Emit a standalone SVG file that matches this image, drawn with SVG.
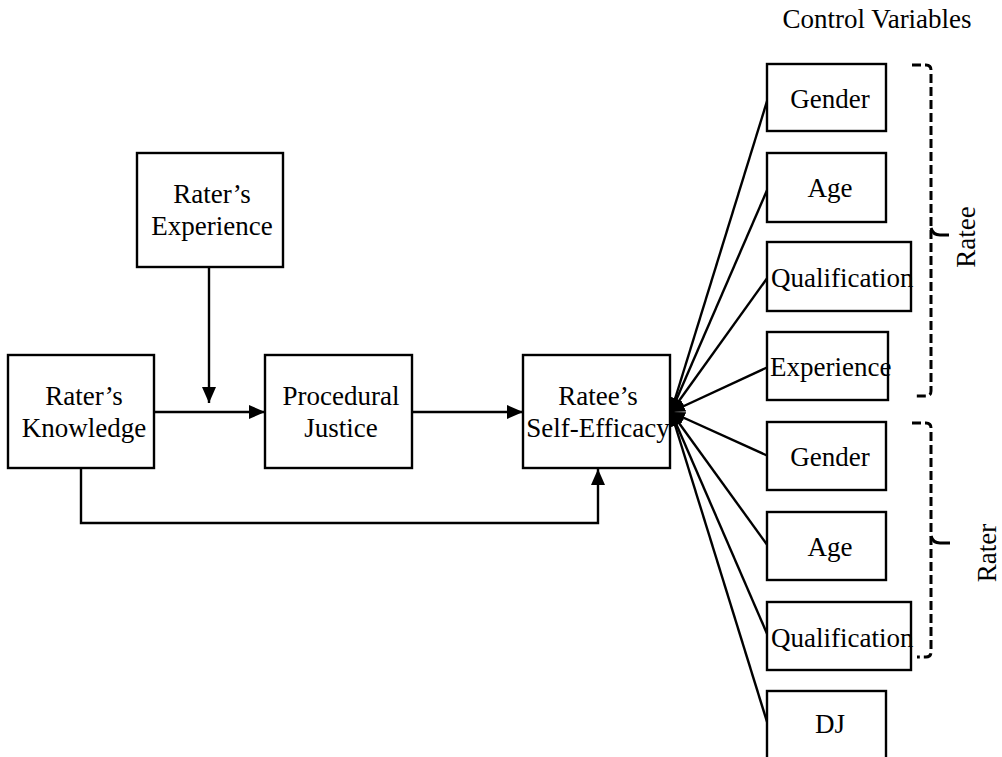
<svg xmlns="http://www.w3.org/2000/svg" width="1002" height="757" viewBox="0 0 1002 757">
<defs>
<marker id="ah" markerUnits="userSpaceOnUse" markerWidth="16" markerHeight="14" refX="16" refY="7" orient="auto"><path d="M0,0 L16,7 L0,14 Z" fill="#000"/></marker>
<marker id="sh" markerUnits="userSpaceOnUse" markerWidth="14" markerHeight="12" refX="14" refY="6" orient="auto"><path d="M0,0 L14,6 L0,12 Z" fill="#000"/></marker>
</defs>
<style>
.box{fill:#fff;stroke:#000;stroke-width:2.4}
text{font-family:"Liberation Serif","Times New Roman",serif;font-size:27px;fill:#000}
.c{text-anchor:middle}
.ln{stroke:#000;stroke-width:2.4;fill:none}
.br{stroke:#000;stroke-width:3;fill:none;stroke-dasharray:9 4}
</style>
<rect width="1002" height="757" fill="#fff"/>
<g id="connectors">
<line class="ln" x1="209" y1="267" x2="209" y2="403" marker-end="url(#ah)"/>
<line class="ln" x1="154" y1="412" x2="265" y2="412" marker-end="url(#ah)"/>
<line class="ln" x1="412" y1="412" x2="523" y2="412" marker-end="url(#ah)"/>
<path class="ln" d="M81,468 L81,523 L598,523 L598,469" marker-end="url(#ah)"/>
<line class="ln" x1="768" y1="98" x2="671" y2="412" marker-end="url(#sh)"/>
<line class="ln" x1="768" y1="188" x2="671" y2="412" marker-end="url(#sh)"/>
<line class="ln" x1="768" y1="277" x2="671" y2="412" marker-end="url(#sh)"/>
<line class="ln" x1="768" y1="367" x2="671" y2="412" marker-end="url(#sh)"/>
<line class="ln" x1="768" y1="456" x2="671" y2="412" marker-end="url(#sh)"/>
<line class="ln" x1="768" y1="546" x2="671" y2="412" marker-end="url(#sh)"/>
<line class="ln" x1="768" y1="636" x2="671" y2="412" marker-end="url(#sh)"/>
<line class="ln" x1="768" y1="725" x2="671" y2="412" marker-end="url(#sh)"/>
</g>
<g id="rater-knowledge"><rect class="box" x="8" y="355" width="146" height="113"/><text class="c" x="84" y="405">Rater’s</text><text class="c" x="84" y="437">Knowledge</text></g>
<g id="rater-experience"><rect class="box" x="137" y="153" width="146" height="114"/><text class="c" x="212" y="203">Rater’s</text><text class="c" x="212" y="235">Experience</text></g>
<g id="procedural-justice"><rect class="box" x="265" y="355" width="147" height="113"/><text class="c" x="341" y="405">Procedural</text><text class="c" x="341" y="437">Justice</text></g>
<g id="ratee-self-efficacy"><rect class="box" x="523" y="355" width="147" height="113"/><text class="c" x="598" y="405">Ratee’s</text><text class="c" x="598" y="437">Self-Efficacy</text></g>
<g id="ratee-gender"><rect class="box" x="767" y="64" width="119" height="67"/><text class="c" x="830" y="108">Gender</text></g>
<g id="ratee-age"><rect class="box" x="767" y="153" width="119" height="69"/><text class="c" x="830" y="197">Age</text></g>
<g id="ratee-qualification"><rect class="box" x="767" y="242" width="144" height="69"/><text x="771" y="287">Qualification</text></g>
<g id="ratee-experience"><rect class="box" x="767" y="332" width="121" height="68"/><text x="770" y="376">Experience</text></g>
<g id="rater-gender"><rect class="box" x="767" y="422" width="119" height="68"/><text class="c" x="830" y="466">Gender</text></g>
<g id="rater-age"><rect class="box" x="767" y="512" width="119" height="68"/><text class="c" x="830" y="556">Age</text></g>
<g id="rater-qualification"><rect class="box" x="767" y="602" width="144" height="68"/><text x="771" y="647">Qualification</text></g>
<g id="dj"><rect class="box" x="767" y="691" width="119" height="80"/><text class="c" x="830" y="733">DJ</text></g>
<g id="labels">
<text class="c" x="877" y="28">Control Variables</text>
<text class="c" transform="translate(975,237) rotate(-90)">Ratee</text>
<text class="c" transform="translate(996,553) rotate(-90)">Rater</text>
</g>
<g id="brackets">
<path class="br" d="M912,65 L926,65 Q931,65 931,70 L931,391 Q931,396 926,396 L913,396"/>
<path d="M931,228 Q933,235 940,235 L949,235" stroke="#000" stroke-width="3" fill="none"/>
<path class="br" d="M912,423 L926,423 Q931,423 931,428 L931,652 Q931,657 926,657 L917,657"/>
<path d="M931,536 Q933,543 940,543 L950,543" stroke="#000" stroke-width="3" fill="none"/>
</g>
</svg>
